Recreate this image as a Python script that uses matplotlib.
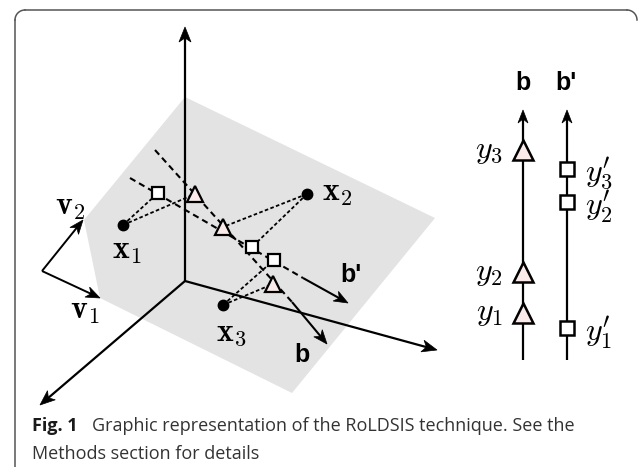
import matplotlib
matplotlib.use("Agg")
import matplotlib.pyplot as plt
import numpy as np
from matplotlib.patches import Polygon

plt.rcParams['mathtext.fontset'] = 'cm'

W, H = 638, 467

# ---- geometry (pixel space of the figure) ----
plane = [(185, 97), (435, 218), (292, 393), (100, 298), (84, 220)]
origin = (185, 281)
axis_tips = [(185, 27), (40, 405), (437, 350)]
v_origin = (42, 271)
v_tips = [(100, 298), (83, 220)]           # v1, v2
v_labels = [r'$\mathbf{v}_1$', r'$\mathbf{v}_2$']
v_label_pos = [(85, 310), (70, 206)]

samples = [(123, 225), (307, 194), (223, 305)]          # x1, x2, x3
sample_labels = [r'$\mathbf{x}_1$', r'$\mathbf{x}_2$', r'$\mathbf{x}_3$']
sample_label_pos = [(127, 250), (337, 193), (231, 332)]
proj_b = [(195, 194), (223, 227), (273, 284)]           # triangles
proj_bp = [(158, 193), (252, 247), (274, 260)]          # squares

b_line = [(155, 150), (292, 302), (327, 344)]           # start, dash end, tip
bp_line = [(130, 178), (303, 278), (348, 303)]

# right panel
b_x, bp_x = 523, 567
panel_top, panel_bottom = 110, 360
y_b = [313, 272, 150]        # y1, y2, y3
y_bp = [328, 202, 169]       # y1', y2', y3'
y_b_labels = [r'$y_1$', r'$y_2$', r'$y_3$']
y_bp_labels = [r'$y^{\prime}_1$', r'$y^{\prime}_2$', r'$y^{\prime}_3$']

plane_color = '#e3e3e3'
tri_fill = '#fbeaea'
math_fs = 23

fig = plt.figure(figsize=(W / 100, H / 100), dpi=100)
ax = fig.add_axes([0, 0, 1, 1])
ax.set_xlim(0, W)
ax.set_ylim(H, 0)
ax.axis('off')


def head(tip, frm, L=14, hw=5.5, ind=4, color='k', z=5):
    tip = np.array(tip, float)
    d = tip - np.array(frm, float)
    d /= np.hypot(*d)
    n = np.array([-d[1], d[0]])
    base = tip - d * L
    pts = [tip, base + n * hw, tip - d * (L - ind), base - n * hw]
    ax.add_patch(Polygon(pts, closed=True, fc=color, ec=color, lw=0.5, zorder=z))


def arrow(p0, p1, lw=1.6, L=14, hw=5.5, z=4):
    p0 = np.array(p0, float); p1 = np.array(p1, float)
    d = p1 - p0
    d /= np.hypot(*d)
    end = p1 - d * 8
    ax.plot([p0[0], end[0]], [p0[1], end[1]], color='k', lw=lw, zorder=z,
            solid_capstyle='butt')
    head(p1, p0, L=L, hw=hw, z=z + 1)


# frame (rounded top, open right side)
r = 10
fx0, fx1, fy0 = 15, 637, 10
fc = '#555555'
ax.plot([fx0, fx0], [H, fy0 + r], color=fc, lw=1.1)
ax.plot([fx0 + r, fx1 - r], [fy0, fy0], color=fc, lw=1.1)
th = np.linspace(np.pi, 1.5 * np.pi, 20)
ax.plot(fx0 + r + r * np.cos(th), fy0 + r + r * np.sin(th), color=fc, lw=1.1)
th = np.linspace(1.5 * np.pi, 2 * np.pi, 20)
ax.plot(fx1 - r + r * np.cos(th), fy0 + r + r * np.sin(th), color=fc, lw=1.1)

# plane
ax.add_patch(Polygon(plane, closed=True, fc=plane_color, ec='none', zorder=1))

# coordinate axes
for tip in axis_tips:
    arrow(origin, tip, lw=1.6, L=15, hw=6)

# basis vectors
for tip in v_tips:
    arrow(v_origin, tip, lw=1.4, L=14, hw=5.5)
for lab, pos in zip(v_labels, v_label_pos):
    ax.text(pos[0], pos[1], lab, fontsize=math_fs, ha='center', va='center')

# b and b' lines
dash = (0, (3.0, 2.0))
for line in (b_line, bp_line):
    (x0, y0), (x1, y1), tip = line
    ax.plot([x0, x1], [y0, y1], color='k', lw=1.5, ls=dash, zorder=3)
    arrow((x1, y1), tip, lw=1.5, L=14, hw=5.5, z=3)

# dotted projection lines
dot = (0, (2.0, 1.3))
for s, pb, pbp in zip(samples, proj_b, proj_bp):
    ax.plot([s[0], pb[0]], [s[1], pb[1]], color='k', lw=1.3, ls=dot, zorder=3)
    ax.plot([s[0], pbp[0]], [s[1], pbp[1]], color='k', lw=1.3, ls=dot, zorder=3)

# markers
sx, sy = zip(*samples)
ax.plot(sx, sy, 'o', ms=7.5, color='k', zorder=6)
tx, ty = zip(*proj_b)
ax.plot(tx, ty, '^', ms=11.5, mfc=tri_fill, mec='k', mew=1.6, zorder=6)
qx, qy = zip(*proj_bp)
ax.plot(qx, qy, 's', ms=8.5, mfc='white', mec='k', mew=1.6, zorder=6)

for lab, pos in zip(sample_labels, sample_label_pos):
    ax.text(pos[0], pos[1], lab, fontsize=math_fs, ha='center', va='center')

ax.text(351, 275, "b'", fontsize=18, fontweight='bold', family='Liberation Sans',
        ha='center', va='center')
ax.text(302, 355, "b", fontsize=18, fontweight='bold', family='Liberation Sans',
        ha='center', va='center')

# right panel
arrow((b_x, panel_bottom), (b_x, panel_top), lw=1.6, L=13, hw=5)
arrow((bp_x, panel_bottom), (bp_x, panel_top), lw=1.6, L=13, hw=5)
ax.plot([b_x] * len(y_b), y_b, '^', ms=14, mfc=tri_fill, mec='k', mew=1.8, zorder=6)
ax.plot([bp_x] * len(y_bp), y_bp, 's', ms=10, mfc='white', mec='k', mew=1.8, zorder=6)
for lab, y in zip(y_b_labels, y_b):
    ax.text(503, y, lab, fontsize=math_fs, ha='right', va='center')
for lab, y in zip(y_bp_labels, y_bp):
    ax.text(585, y + 5, lab, fontsize=math_fs, ha='left', va='center')
ax.text(b_x, 83, 'b', fontsize=18, fontweight='bold', family='Liberation Sans',
        ha='center', va='center')
ax.text(555, 83, "b'", fontsize=18, fontweight='bold', family='Liberation Sans',
        ha='left', va='center')

# caption
cap_font = 'Open Sans'
cap_fs = 13
ax.text(32, 431, 'Fig. 1', fontsize=cap_fs, fontweight='bold', family=cap_font,
        ha='left', va='baseline', color='#1a1a1a')
ax.text(92, 431, 'Graphic representation of the RoLDSIS technique. See the',
        fontsize=cap_fs, family=cap_font, ha='left', va='baseline', color='#333333')
ax.text(32, 459, 'Methods section for details', fontsize=cap_fs, family=cap_font,
        ha='left', va='baseline', color='#333333')

fig.savefig('out.png', dpi=100)
